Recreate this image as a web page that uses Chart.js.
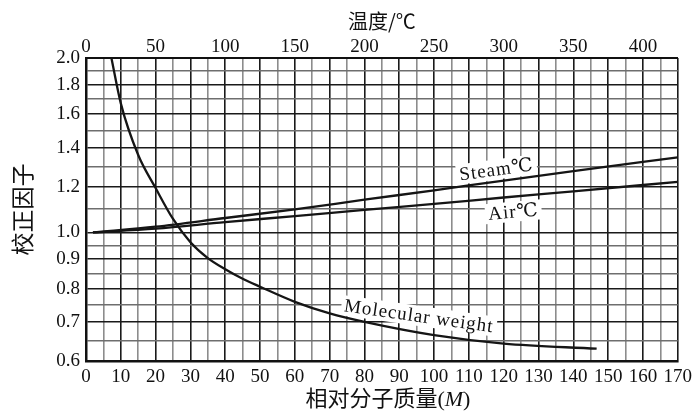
<!DOCTYPE html>
<html><head><meta charset="utf-8">
<script src="https://cdn.jsdelivr.net/npm/chart.js@4/dist/chart.umd.min.js"></script>
<style>html,body{margin:0;padding:0;background:#fff}canvas{display:block}</style>
</head><body><canvas id="c" width="697" height="411"></canvas>
<script>
// ---- data ----
const mwX      = [7.3, 10, 15, 20, 25, 30, 35, 40, 45, 50, 60, 70, 80, 100, 120, 146.7];
const mwFactor = [2.0, 1.67, 1.36, 1.193, 1.055, 0.962, 0.903, 0.864, 0.832, 0.806, 0.759, 0.725, 0.701, 0.665, 0.643, 0.630];
const tempX       = [5, 50, 100, 150, 200, 250, 300, 350, 425];
const steamFactor = [1.0, 1.023, 1.059, 1.096, 1.139, 1.182, 1.229, 1.276, 1.348];
const airFactor   = [1.0, 1.015, 1.042, 1.067, 1.094, 1.120, 1.149, 1.177, 1.223];
const bottomTicks = [0,5,10,15,20,25,30,35,40,45,50,55,60,65,70,75,80,85,90,95,100,105,110,115,120,125,130,135,140,145,150,155,160,165,170];
const bottomLabels = [0,10,20,30,40,50,60,70,80,90,100,110,120,130,140,150,160,170];
const topTicks = [0,50,100,150,200,250,300,350,400];
const yTicks = [0.6,0.65,0.7,0.75,0.8,0.85,0.9,0.95,1.0,1.1,1.2,1.3,1.4,1.5,1.6,1.7,1.8,1.9,2.0];
const yLabels = [0.6,0.7,0.8,0.9,1.0,1.2,1.4,1.6,1.8,2.0];
const labelSteam = 'Steam℃', labelAir = 'Air℃', labelMw = 'Molecular weight';
const titleTop = '温度/℃', titleY = '校正因子', titleBottomCjk = '相对分子质量', titleBottomVar = 'M';

const SERIF = '"Liberation Serif", "DejaVu Serif", serif';
const CJK = '"Noto Sans CJK SC", sans-serif';
const has = (arr, v) => arr.some(a => Math.abs(a - v) < 1e-6);
const pts = (xs, ys) => xs.map((x, i) => ({x, y: ys[i]}));

function interpY(xs, ys, x) {
  for (let i = 0; i < xs.length - 1; i++) {
    if (x >= xs[i] && x <= xs[i+1]) {
      const t = (x - xs[i]) / (xs[i+1] - xs[i]);
      return Math.exp(Math.log(ys[i]) * (1 - t) + Math.log(ys[i+1]) * t);
    }
  }
  return ys[ys.length - 1];
}

const curveLabels = [
  {text: labelSteam, xs: tempX, ys: steamFactor, axis: 'x2', at: 296, off: -12, span: 20, adj: 0},
  {text: labelAir,   xs: tempX, ys: airFactor,   axis: 'x2', at: 306, off: 15, span: 20, adj: 0},
  {text: labelMw,    xs: mwX,   ys: mwFactor,    axis: 'x',  at: 95,  off: -16, span: 14, adj: -1.5}
];

function labelGeom(chart, L) {
  const xs = chart.scales[L.axis], ys = chart.scales.y;
  const d = L.span;
  const p = v => ({x: xs.getPixelForValue(v), y: ys.getPixelForValue(interpY(L.xs, L.ys, v))});
  const a = p(L.at - d), b = p(L.at + d), c = p(L.at);
  const th = Math.atan2(b.y - a.y, b.x - a.x) + L.adj * Math.PI / 180;
  return {cx: c.x - Math.sin(th) * L.off, cy: c.y + Math.cos(th) * L.off, th};
}

const labelPlugin = {
  id: 'curveLabels',
  beforeDatasetsDraw(chart) {
    const ctx = chart.ctx;
    curveLabels.forEach(L => {
      const g = labelGeom(chart, L);
      ctx.save();
      ctx.translate(g.cx, g.cy); ctx.rotate(g.th);
      ctx.font = '19px ' + SERIF; ctx.letterSpacing = '1px';
      const w = ctx.measureText(L.text).width;
      ctx.fillStyle = '#fff';
      ctx.fillRect(-w/2 - 3, -10, w + 6, 20);
      ctx.restore();
    });
  },
  afterDatasetsDraw(chart) {
    const ctx = chart.ctx;
    curveLabels.forEach(L => {
      const g = labelGeom(chart, L);
      ctx.save();
      ctx.translate(g.cx, g.cy); ctx.rotate(g.th);
      ctx.font = '19px ' + SERIF; ctx.letterSpacing = '1px';
      ctx.fillStyle = '#111'; ctx.textAlign = 'center'; ctx.textBaseline = 'middle';
      ctx.fillText(L.text, 0, 1);
      ctx.restore();
    });
  },
  afterDraw(chart) {
    const ctx = chart.ctx, area = chart.chartArea;
    const parts = [
      {t: titleBottomCjk, f: '22px ' + CJK},
      {t: '(', f: '22px ' + SERIF},
      {t: titleBottomVar, f: 'italic 22px ' + SERIF},
      {t: ')', f: '22px ' + SERIF}
    ];
    ctx.save();
    let total = 0;
    parts.forEach(p => { ctx.font = p.f; p.w = ctx.measureText(p.t).width; total += p.w; });
    let x = (area.left + area.right) / 2 - total / 2 + 6;
    ctx.fillStyle = '#111'; ctx.textBaseline = 'alphabetic'; ctx.textAlign = 'left';
    parts.forEach(p => { ctx.font = p.f; ctx.fillText(p.t, x, 406); x += p.w; });
    ctx.restore();
  }
};

const lineStyle = {showLine: true, pointRadius: 0, borderColor: '#151515', borderWidth: 2.3, cubicInterpolationMode: 'monotone', fill: false};

new Chart(document.getElementById('c'), {
  type: 'scatter',
  data: {
    datasets: [
      Object.assign({label: labelMw, data: pts(mwX, mwFactor), xAxisID: 'x', yAxisID: 'y'}, lineStyle),
      Object.assign({label: labelSteam, data: pts(tempX, steamFactor), xAxisID: 'x2', yAxisID: 'y'}, lineStyle),
      Object.assign({label: labelAir, data: pts(tempX, airFactor), xAxisID: 'x2', yAxisID: 'y'}, lineStyle)
    ]
  },
  options: {
    responsive: false, animation: false, devicePixelRatio: 1,
    layout: {padding: {left: 0, right: 16, top: 0, bottom: 0}},
    plugins: {legend: {display: false}, tooltip: {enabled: false}},
    scales: {
      x: {
        type: 'linear', position: 'bottom', min: 0, max: 170,
        afterBuildTicks: s => { s.ticks = bottomTicks.map(v => ({value: v})); },
        afterFit: s => { s.height = 50; },
        ticks: {autoSkip: false, maxRotation: 0, padding: 5, color: '#111', font: {family: SERIF, size: 19},
                callback: v => has(bottomLabels, v) ? String(v) : ''},
        grid: {drawTicks: false, color: c => has(bottomLabels, c.tick.value) ? '#1a1a1a' : '#8c8c8c', lineWidth: 1.6},
        border: {display: true, color: '#111', width: 2.5}
      },
      x2: {
        type: 'linear', position: 'top', min: 0, max: 425,
        afterBuildTicks: s => { s.ticks = topTicks.map(v => ({value: v})); },
        afterFit: s => { s.height = 58; },
        ticks: {autoSkip: false, maxRotation: 0, padding: 0, color: '#111', font: {family: SERIF, size: 19}},
        grid: {display: false, drawTicks: false},
        border: {display: true, color: '#111', width: 2},
        title: {display: true, text: titleTop, color: '#111', font: {family: CJK, size: 20}, padding: {top: 9, bottom: 0}}
      },
      y: {
        type: 'logarithmic', position: 'left', min: 0.6, max: 2.0,
        afterBuildTicks: s => { s.ticks = yTicks.map(v => ({value: v})); },
        afterFit: s => { s.width = 86; },
        ticks: {autoSkip: false, padding: 6, color: '#111', font: {family: SERIF, size: 19},
                callback: v => has(yLabels, v) ? v.toFixed(1) : ''},
        grid: {drawTicks: false, color: c => has(yLabels, c.tick.value) ? '#1a1a1a' : '#6e6e6e', lineWidth: 1.6},
        border: {display: true, color: '#111', width: 2.5},
        title: {display: true, text: titleY, color: '#111', font: {family: CJK, size: 23}, padding: {top: 8, bottom: 0}}
      }
    }
  },
  plugins: [labelPlugin]
});
</script>
</body></html>
